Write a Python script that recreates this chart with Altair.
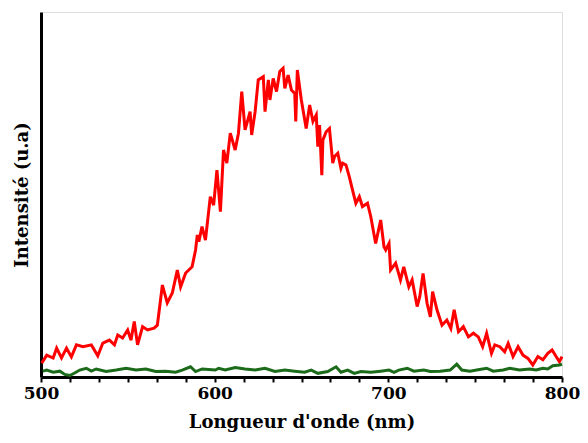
import altair as alt
import pandas as pd

# Red spectrum (wavelength nm, intensity a.u.)
red_nm = [500.4, 503.3, 507.0, 509.0, 511.8, 514.7, 517.5, 520.4, 524.2, 529.0,
          532.7, 535.6, 539.4, 542.3, 544.2, 547.0, 549.9, 551.8, 553.7, 555.6,
          558.5, 561.3, 565.1, 567.0, 569.9, 572.7, 575.6, 578.5, 580.4, 583.3,
          587.0, 589.0, 590.0, 590.9, 592.7, 594.7, 597.5, 599.4, 601.3, 603.3,
          605.1, 607.0, 609.0, 611.8, 613.7, 615.6, 617.5, 620.4, 621.3, 623.3,
          625.1, 628.0, 629.0, 630.9, 631.8, 633.7, 635.6, 637.5, 639.4, 640.4,
          642.3, 644.2, 646.1, 646.7, 647.6, 649.9, 652.7, 654.7, 656.6, 658.5,
          659.4, 660.4, 661.7, 662.3, 664.2, 666.1, 668.0, 669.0, 670.9, 672.7,
          673.7, 675.6, 677.5, 679.4, 681.3, 683.3, 685.1, 688.0, 689.9, 692.7,
          695.6, 697.5, 698.5, 700.4, 701.3, 704.2, 707.0, 708.9, 711.8, 713.7,
          716.6, 718.1, 720.0, 722.3, 724.2, 725.5, 728.0, 730.9, 733.7, 736.0,
          737.9, 740.4, 743.2, 746.1, 749.0, 751.8, 754.3, 756.6, 759.4, 761.3,
          764.2, 767.0, 769.0, 771.8, 774.7, 777.5, 780.4, 783.2, 786.1, 789.0,
          791.8, 794.3, 796.6, 798.5, 800.0]
red_int = [3.8, 6.0, 5.2, 7.9, 5.2, 7.9, 5.5, 8.8, 8.3, 8.8,
           5.8, 9.3, 10.1, 8.8, 11.5, 10.7, 12.9, 10.1, 15.2, 8.8,
           13.8, 12.9, 13.4, 14.2, 25.2, 20.3, 23.0, 29.3, 24.7, 28.5,
           30.2, 34.8, 38.9, 37.1, 41.2, 37.5, 49.4, 47.1, 56.7, 45.3,
           62.2, 58.6, 66.8, 62.2, 66.8, 78.2, 67.7, 72.7, 66.3, 72.7,
           81.4, 82.3, 72.7, 81.4, 75.9, 81.8, 78.2, 83.7, 84.6, 79.1,
           82.7, 78.6, 77.7, 70.0, 84.1, 75.9, 68.1, 74.5, 70.0, 71.8,
           63.1, 69.0, 55.3, 64.9, 67.2, 68.1, 58.6, 60.4, 61.3, 57.2,
           58.6, 58.1, 54.9, 51.2, 47.6, 49.4, 46.7, 47.6, 43.9, 36.6,
           43.0, 35.7, 34.8, 36.6, 29.3, 31.2, 26.6, 30.2, 24.7, 26.6,
           19.3, 22.0, 28.4, 20.2, 16.5, 23.4, 18.4, 14.2, 15.6, 13.3,
           18.4, 12.4, 13.8, 11.0, 12.0, 11.0, 8.3, 12.0, 6.5, 8.8,
           8.3, 6.9, 9.2, 5.6, 8.3, 6.0, 5.1, 3.3, 5.6, 4.7,
           6.5, 7.4, 5.6, 4.2, 5.6]

# Green spectrum
green_nm = [501.0, 503.3, 507.0, 510.9, 513.7, 516.6, 519.4, 522.3, 526.1, 529.0,
            531.8, 537.5, 543.3, 549.0, 554.7, 560.4, 566.1, 571.8, 577.5, 581.3,
            586.1, 589.0, 592.8, 600.4, 602.3, 606.1, 611.8, 617.5, 623.3, 629.0,
            634.7, 640.4, 646.1, 651.8, 655.6, 659.4, 665.1, 669.9, 672.7, 676.6,
            680.4, 684.2, 689.9, 695.6, 700.4, 703.3, 706.0, 710.9, 714.7, 720.4,
            724.2, 729.9, 735.6, 739.4, 742.3, 747.0, 750.9, 756.6, 760.4, 766.1,
            769.9, 775.6, 781.3, 785.1, 789.0, 791.8, 794.7, 798.5, 800.0]
green_int = [1.6, 1.9, 1.3, 1.6, 0.7, 0.4, 1.1, 1.9, 2.4, 1.6,
             2.2, 1.5, 1.9, 2.4, 1.9, 2.2, 1.5, 1.6, 1.3, 1.9,
             2.8, 1.5, 2.2, 1.9, 2.4, 1.9, 2.6, 2.2, 1.9, 2.4,
             1.5, 1.9, 1.6, 1.3, 1.9, 1.0, 1.5, 2.8, 1.3, 1.9,
             1.0, 1.5, 1.3, 1.6, 1.9, 1.3, 1.9, 2.4, 1.6, 1.9,
             1.5, 1.6, 1.9, 3.5, 1.9, 1.6, 1.9, 2.4, 1.6, 1.9,
             2.4, 1.9, 2.2, 1.9, 2.4, 2.2, 3.1, 3.3, 3.5]

# tick positions: majors (labelled) and minors (unlabelled)
tick_values = [500, 516.67, 533.33, 550, 566.67, 583.33,
               600, 616.67, 633.33, 650, 666.67, 683.33,
               700, 716.67, 733.33, 750, 766.67, 783.33, 800]

red_df = pd.DataFrame({"nm": red_nm, "I": red_int})
green_df = pd.DataFrame({"nm": green_nm, "I": green_int})

FONT = "DejaVu Serif"
xscale = alt.Scale(domain=[500, 800], nice=False)
yscale = alt.Scale(domain=[0, 100], nice=False)

x_axis = alt.Axis(values=tick_values, orient="bottom", grid=False,
                  labelExpr="datum.value % 100 == 0 ? datum.label : ''",
                  labelFlush=False, labelOverlap=False,
                  domainColor="black", domainWidth=3,
                  tickColor="black", tickWidth=2, tickSize=5,
                  labelFont=FONT, labelFontWeight="bold", labelFontSize=17,
                  labelColor="black", labelPadding=3,
                  title="Longueur d'onde (nm)", titleFont=FONT,
                  titleFontWeight="bold", titleFontSize=18, titleColor="black",
                  titlePadding=12)
y_axis = alt.Axis(grid=False, ticks=False, labels=False,
                  domainColor="black", domainWidth=3,
                  title="Intensité (u.a)", titleFont=FONT, titleFontWeight="bold",
                  titleFontSize=18, titleColor="black", titlePadding=10)

red = alt.Chart(red_df).mark_line(color="#ff0000", strokeWidth=3).encode(
    x=alt.X("nm:Q", scale=xscale, axis=x_axis),
    y=alt.Y("I:Q", scale=yscale, axis=y_axis),
)
green = alt.Chart(green_df).mark_line(color="#1b6b1b", strokeWidth=3).encode(
    x=alt.X("nm:Q", scale=xscale, axis=x_axis),
    y=alt.Y("I:Q", scale=yscale, axis=y_axis),
)

chart = alt.layer(red, green).properties(
    width=521, height=365,
    autosize=alt.AutoSizeParams(type="none"),
    padding={"left": 33, "top": 4, "right": 18, "bottom": 58},
).configure_view(strokeWidth=0, stroke="transparent").configure(background="white")

chart.save("out.html", embed_options={"renderer": "svg", "actions": False})
